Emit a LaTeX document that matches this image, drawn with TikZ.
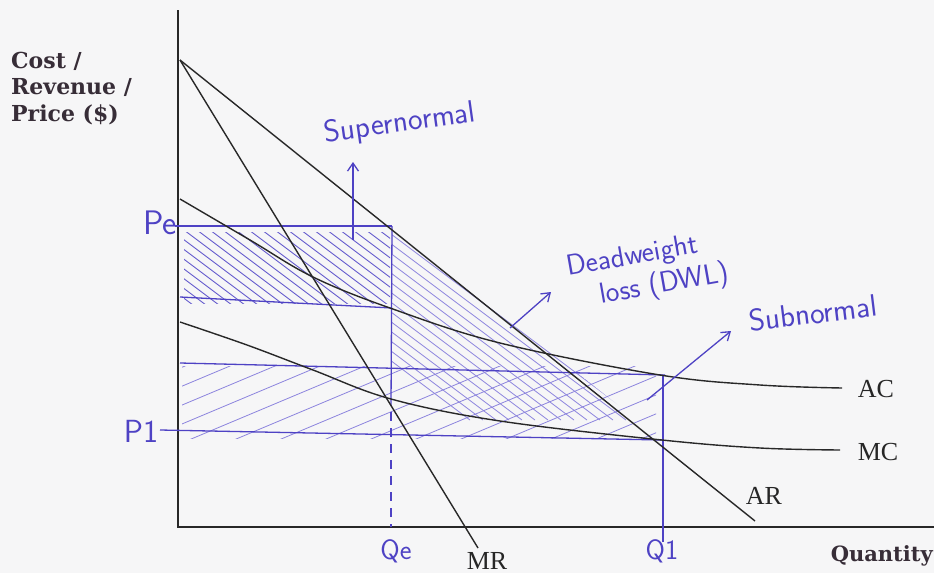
\documentclass[tikz,border=0pt]{standalone}
\usepackage{fontspec}
\setmainfont{Liberation Serif}
\newfontfamily\axisfont{DejaVu Serif}
\usetikzlibrary{arrows.meta}
\definecolor{ink}{RGB}{78,66,196}
\definecolor{hatchA}{RGB}{100,90,205}
\definecolor{hatchB}{RGB}{140,132,222}
\definecolor{bgc}{RGB}{246,246,247}
\definecolor{curve}{RGB}{40,40,40}
\definecolor{printc}{RGB}{55,45,55}
\begin{document}
\begin{tikzpicture}[x=1pt,y=-1pt,
  curveline/.style={draw=curve,line width=1.4pt},
  axisline/.style={draw=curve,line width=2pt},
  inkline/.style={draw=ink,line width=1.3pt},
  hatchone/.style={draw=hatchA,line width=0.9pt},
  hatchtwo/.style={draw=hatchB,line width=0.8pt},
  hand/.style={text=ink,font=\sffamily\fontsize{31}{28}\selectfont,inner sep=0pt},
  curvelabel/.style={font=\fontsize{26}{28}\selectfont,text=black!85,inner sep=0pt},
  axislabel/.style={font=\axisfont\bfseries\fontsize{22}{26.5}\selectfont,text=printc,inner sep=0pt},
  inkarrow/.style={draw=ink,line width=1.3pt,-{Straight Barb[length=8pt,width=11pt]}}
]
\fill[bgc] (0,0) rectangle (934,573);
\useasboundingbox (0,0) rectangle (934,573);

% key coordinates
\coordinate (top) at (178,10);
\coordinate (O) at (178,527);
\coordinate (xend) at (934,527);
\coordinate (A0) at (180,60);
\coordinate (ARend) at (755,521);
\coordinate (MRend) at (478,548);
\coordinate (Epe) at (392,226);
\coordinate (Emc) at (391,400);
\coordinate (Q1mc) at (662,440);

% hatching: supernormal
\begin{scope}
\clip (184,232) rectangle (390,303);
\foreach \s in {40,53,...,400} \draw[hatchone] (\s,200) -- ++(160,120);
\end{scope}
% hatching: deadweight loss
\begin{scope}
\clip (Epe) -- (Q1mc) -- (392,436) -- cycle;
\foreach \s in {150,163,...,680} \draw[hatchtwo] (\s,180) -- ++(320,240);
\end{scope}
% hatching: subnormal
\begin{scope}
\clip (182,366) rectangle (656,438);
\foreach \s in {-60,-15,...,680} \draw[hatchtwo] (\s,450) -- ++(300,-126);
\end{scope}

% axes
\draw[axisline] (top) -- (O) -- (xend);

% blue lines
\draw[inkline] (175,226) -- (Epe);
\draw[inkline] (Epe) -- (391,406);
\draw[inkline,dash pattern=on 9pt off 7pt] (391,412) -- (O -| Emc);
\draw[inkline] (180,297) -- (392,308);
\draw[inkline] (180,363) -- (665,375);
\draw[inkline] (160,430) -- (Q1mc);
\draw[inkline] (663,375) -- (663,542);

% curves
\draw[curveline] (A0) -- (ARend);
\draw[curveline] (A0) -- (MRend);
\draw[curveline] plot[smooth,tension=0.6] coordinates {(180,199) (250,240) (313,277) (390,308) (500,343) (660,375) (760,385) (842,388)};
\draw[curveline] plot[smooth,tension=0.6] coordinates {(180,322) (247,345) (313,370) (391,399) (500,421) (662,440) (760,448) (840,450)};

% arrows
\coordinate (sa1) at (353,240); \coordinate (sa2) at (353,162);
\coordinate (da1) at (510,328); \coordinate (da2) at (551,292);
\coordinate (na1) at (647,400); \coordinate (na2) at (731,331);
\draw[inkarrow] (sa1) -- (sa2);
\draw[inkarrow] (da1) -- (da2);
\draw[inkarrow] (na1) -- (na2);

% handwritten labels
\node[hand,rotate=8] (lsup) at (400,124) {Supernormal};
\node[hand,rotate=10,align=left,font=\sffamily\fontsize{29}{33}\selectfont] (ldw) at (648,272) {Deadweight\\\hspace{28pt}loss (DWL)};
\node[hand,rotate=7] (lsub) at (813,313) {Subnormal};
\node[hand,font=\sffamily\fontsize{34}{34}\selectfont] (lpe) at (160,223) {Pe};
\node[hand,font=\sffamily\fontsize{32}{32}\selectfont] (lp1) at (141,431) {P1};
\node[hand,font=\sffamily\fontsize{28}{28}\selectfont] (lqe) at (396,551) {Qe};
\node[hand,font=\sffamily\fontsize{28}{28}\selectfont] (lq1) at (662,551) {Q1};

% printed labels
\node[axislabel,align=left,anchor=base west] (ylab) at (11,121) {Cost /\\Revenue /\\Price (\$)};
\node[axislabel,font=\axisfont\bfseries\fontsize{21}{22}\selectfont,anchor=base east] (xlab) at (933,561) {Quantity};
\node[curvelabel] (lac) at (876,389) {AC};
\node[curvelabel] (lmc) at (878,452) {MC};
\node[curvelabel] (lar) at (764,496) {AR};
\node[curvelabel,anchor=base] (lmr) at (487,569) {MR};
\end{tikzpicture}
\end{document}
